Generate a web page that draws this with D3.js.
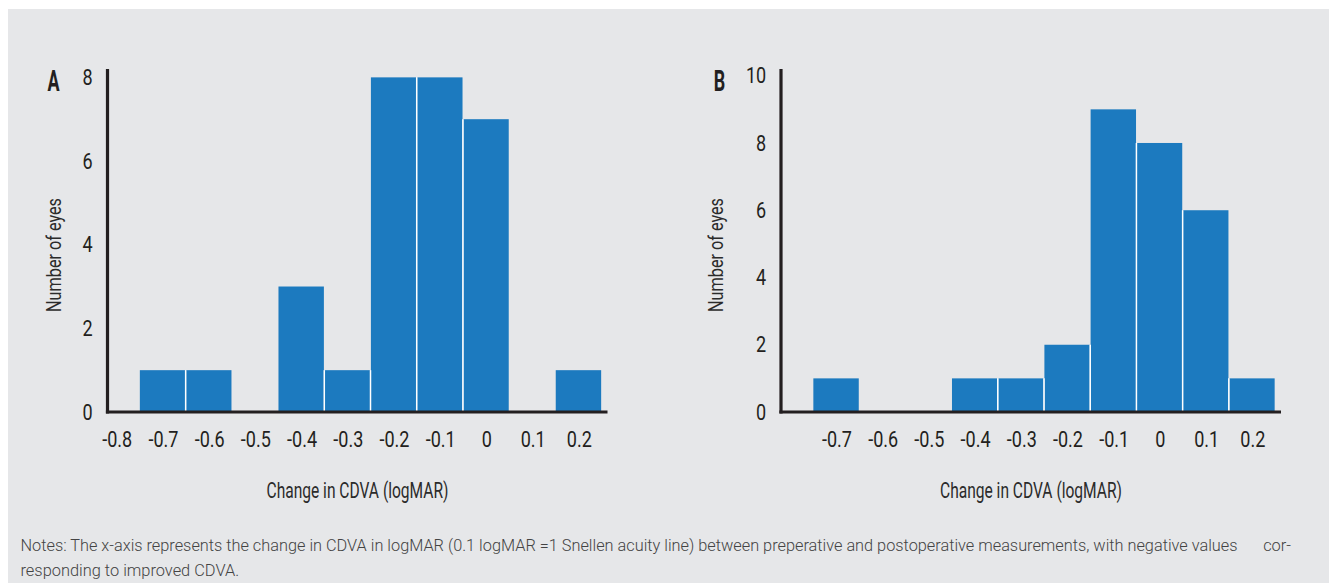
<!DOCTYPE html>
<html>
<head>
<meta charset="utf-8">
<script src="https://cdn.jsdelivr.net/npm/d3@7"></script>
<style>
  body { margin: 0; background: #fff; }
  svg text { font-family: Roboto, "Liberation Sans", sans-serif; }
</style>
</head>
<body>
<div id="figure"></div>
<script>
// bin centres (logMAR change), one bar per 0.1 step
var bins = [-0.7, -0.6, -0.5, -0.4, -0.3, -0.2, -0.1, 0, 0.1, 0.2];
var countsA = [1, 1, 0, 3, 1, 8, 8, 7, 0, 1];
var countsB = [1, 0, 0, 1, 1, 2, 9, 8, 6, 1];

var xTicksA = [-0.8, -0.7, -0.6, -0.5, -0.4, -0.3, -0.2, -0.1, 0, 0.1, 0.2];
var xTicksB = [-0.7, -0.6, -0.5, -0.4, -0.3, -0.2, -0.1, 0, 0.1, 0.2];
var yTicksA = [0, 2, 4, 6, 8];
var yTicksB = [0, 2, 4, 6, 8, 10];

var binWidth = 0.1;
var W = 1329, H = 583;
var ink = "#231f20";
var barColor = "#1c7abf";

var svg = d3.select("#figure")
    .append("svg")
    .attr("width", W)
    .attr("height", H);

svg.append("rect")
    .attr("x", 8)
    .attr("y", 9)
    .attr("width", W - 8)
    .attr("height", H - 9)
    .attr("fill", "#e6e7e9");

function fmt(d) {
    return d === 0 ? "0" : d.toFixed(1);
}

function drawPanel(p) {
    var x = d3.scaleLinear()
        .domain([-0.82, 0.262])
        .range([p.left, p.left + 500]);

    var y = d3.scaleLinear()
        .domain([0, p.yMax])
        .range([412, 69]);

    var g = svg.append("g");
    var data = bins.map((b, i) => ({bin: b, n: p.counts[i]}));
    var step = x(binWidth) - x(0);

    g.selectAll("rect.bar")
        .data(data.filter(d => d.n > 0))
        .enter()
        .append("rect")
        .attr("class", "bar")
        .attr("x", d => x(d.bin - binWidth / 2))
        .attr("width", step - 0.8)
        .attr("y", d => y(d.n))
        .attr("height", d => y(0) - y(d.n))
        .attr("fill", barColor);

    // thin white gaps between neighbouring bars
    var seps = [];
    for (var i = 0; i < data.length - 1; i++) {
        if (data[i].n > 0 && data[i + 1].n > 0) {
            seps.push({at: data[i].bin + binWidth / 2, n: Math.min(data[i].n, data[i + 1].n)});
        }
    }
    g.selectAll("line.sep")
        .data(seps)
        .enter()
        .append("line")
        .attr("x1", d => x(d.at) - 0.4)
        .attr("x2", d => x(d.at) - 0.4)
        .attr("y1", d => y(d.n))
        .attr("y2", y(0))
        .attr("stroke", "#fff")
        .attr("stroke-width", 1.5);

    // x axis labels
    var xa = g.append("g")
        .attr("transform", "translate(0," + y(0) + ")")
        .call(d3.axisBottom(x).tickValues(p.xTicks).tickSize(0).tickPadding(19).tickFormat(fmt));
    xa.select(".domain").remove();
    xa.selectAll("text")
        .attr("transform", "scale(0.82,1)")
        .attr("fill", ink)
        .style("font-size", "22px");

    // y axis labels
    var ya = g.append("g")
        .attr("transform", "translate(" + p.left + ",0)")
        .call(d3.axisLeft(y).tickValues(p.yTicks).tickSize(0).tickPadding(18));
    ya.select(".domain").remove();
    ya.selectAll("text")
        .attr("transform", "scale(0.82,1)")
        .attr("fill", ink)
        .style("font-size", "22px");

    // axis lines
    g.append("line")
        .attr("x1", p.left)
        .attr("x2", p.left)
        .attr("y1", y.range()[1])
        .attr("y2", y(0) + 1.5)
        .attr("stroke", ink)
        .attr("stroke-width", 3.2);

    g.append("line")
        .attr("x1", p.left - 1.6)
        .attr("x2", x.range()[1])
        .attr("y1", y(0))
        .attr("y2", y(0))
        .attr("stroke", ink)
        .attr("stroke-width", 3);

    // titles
    g.append("text")
        .attr("x", (x.range()[0] + x.range()[1]) / 2)
        .attr("y", 498)
        .attr("text-anchor", "middle")
        .attr("textLength", 182)
        .attr("lengthAdjust", "spacingAndGlyphs")
        .attr("fill", "#2b2b2b")
        .style("font-size", "22px")
        .text("Change in CDVA (logMAR)");

    g.append("text")
        .attr("transform", "translate(" + (p.left - p.yTitleOff) + ",255) rotate(-90)")
        .attr("text-anchor", "middle")
        .attr("textLength", 114)
        .attr("lengthAdjust", "spacingAndGlyphs")
        .attr("fill", "#2b2b2b")
        .style("font-size", "20px")
        .text("Number of eyes");

    g.append("text")
        .attr("transform", "translate(" + (p.left - p.letterOff) + ",91) scale(0.6,1)")
        .attr("text-anchor", "middle")
        .attr("fill", ink)
        .style("font-size", "30px")
        .style("font-weight", "bold")
        .text(p.letter);
}

drawPanel({letter: "A", left: 107.5, counts: countsA, xTicks: xTicksA, yTicks: yTicksA, yMax: 8.2, yTitleOff: 47, letterOff: 54});
drawPanel({letter: "B", left: 781, counts: countsB, xTicks: xTicksB, yTicks: yTicksB, yMax: 10.2, yTitleOff: 58.5, letterOff: 61.5});

// notes under the figure
var notes = svg.append("g")
    .attr("fill", "#444")
    .style("font-size", "16.4px")
    .style("font-weight", "300");

notes.append("text")
    .attr("x", 20.5)
    .attr("y", 550.5)
    .attr("textLength", 1217)
    .attr("lengthAdjust", "spacingAndGlyphs")
    .text("Notes: The x-axis represents the change in CDVA in logMAR (0.1 logMAR =1 Snellen acuity line) between preperative and postoperative measurements, with negative values");

notes.append("text")
    .attr("x", 1291)
    .attr("y", 550.5)
    .attr("text-anchor", "end")
    .text("cor-");

notes.append("text")
    .attr("x", 20.5)
    .attr("y", 576)
    .text("responding to improved CDVA.");
</script>
</body>
</html>
